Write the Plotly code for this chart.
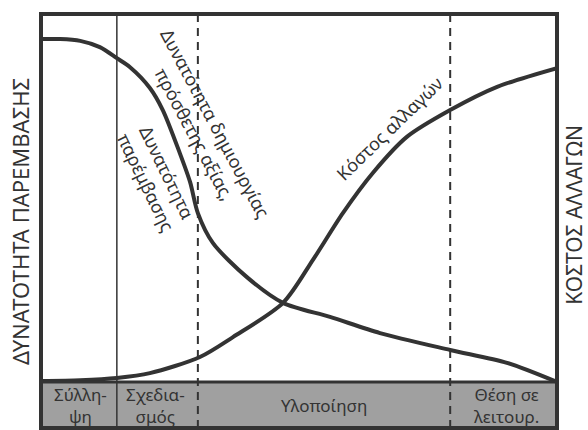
import plotly.graph_objects as go

# ---- data (x: project progress 0-100, y: relative level 0-100) ----
interv_x = [0, 3.7, 7.6, 11.4, 14.7, 17.2, 21.1, 23.6, 26.9, 28.9, 30.4, 33.3, 39.9, 46.9, 56.0, 65.7, 79.3, 90.3, 100]
interv_y = [93.2, 93.2, 92.7, 91.0, 88.0, 85.6, 79.9, 73.9, 62.2, 54.3, 45.9, 37.8, 28.5, 21.5, 17.7, 13.3, 8.7, 5.2, 0]

cost_x = [0, 7.6, 14.7, 21.1, 30.8, 37.2, 46.9, 52.7, 58.5, 64.3, 70.9, 79.3, 88.4, 100]
cost_y = [0.3, 0.5, 1.1, 2.4, 6.8, 12.2, 21.5, 33.2, 45.9, 56.8, 66.6, 73.9, 80.2, 85.3]

phase_bounds = [14.7, 30.4, 79.3]
phase_styles = ["solid", "dash", "dash"]
phase_labels = ["Σύλλη-<br>ψη", "Σχεδια-<br>σμός", "Υλοποίηση", "Θέση σε<br>λειτουρ."]
phase_label_x = [7.6, 22.1, 54.8, 90.3]

curve_labels = ["Δυνατότητα δημιουργίας<br>πρόσθετης αξίας,", "Δυνατότητα<br>παρέμβασης", "Κόστος αλλαγών"]
curve_label_x = [31.8, 22.5, 67.6]
curve_label_y = [68.9, 55.7, 68.9]
curve_label_angle = [62, 64, -44]

left_title = "ΔΥΝΑΤΟΤΗΤΑ ΠΑΡΕΜΒΑΣΗΣ"
right_title = "ΚΟΣΤΟΣ ΑΛΛΑΓΩΝ"

INK = "#333333"
BAND_BOTTOM = -12.5
FONT = "Noto Sans"

fig = go.Figure()

fig.add_trace(go.Scatter(x=interv_x, y=interv_y, mode="lines",
                         line=dict(color=INK, width=4, shape="spline", smoothing=0.8),
                         hoverinfo="skip", showlegend=False))
fig.add_trace(go.Scatter(x=cost_x, y=cost_y, mode="lines",
                         line=dict(color=INK, width=4, shape="spline", smoothing=0.8),
                         hoverinfo="skip", showlegend=False))

shapes = []
# gray phase band
shapes.append(dict(type="rect", xref="x", yref="y", x0=0, x1=100, y0=BAND_BOTTOM, y1=0,
                   fillcolor="#a0a0a0", line=dict(width=0), layer="below"))
shapes.append(dict(type="line", xref="x", yref="y", x0=0, x1=100, y0=0, y1=0,
                   line=dict(color=INK, width=3)))
# phase boundaries
for xb, st in zip(phase_bounds, phase_styles):
    shapes.append(dict(type="line", xref="x", yref="y", x0=xb, x1=xb, y0=BAND_BOTTOM, y1=100,
                       line=dict(color=INK, width=2 if st == "dash" else 1.5,
                                 dash="8px,6px" if st == "dash" else "solid")))
# frame
shapes.append(dict(type="rect", xref="paper", yref="paper", x0=0, x1=1, y0=0, y1=1,
                   line=dict(color=INK, width=4), fillcolor="rgba(0,0,0,0)"))

annotations = []
for lab, xx in zip(phase_labels, phase_label_x):
    annotations.append(dict(x=xx, y=BAND_BOTTOM / 2, xref="x", yref="y", text=lab,
                            xanchor="center", yanchor="middle",
                            showarrow=False, font=dict(family=FONT, size=17, color=INK)))
for lab, xx, yy, ang in zip(curve_labels, curve_label_x, curve_label_y, curve_label_angle):
    annotations.append(dict(x=xx, y=yy, xref="x", yref="y", text=lab, textangle=ang,
                            xanchor="center", yanchor="middle",
                            showarrow=False, font=dict(family=FONT, size=18, color=INK)))
annotations.append(dict(x=-0.0405, y=0.4976, xref="paper", yref="paper", text=left_title,
                        textangle=-90, showarrow=False, xanchor="center", yanchor="middle",
                        font=dict(family=FONT, size=22, color=INK)))
annotations.append(dict(x=1.034, y=0.514, xref="paper", yref="paper", text=right_title,
                        textangle=-90, showarrow=False, xanchor="center", yanchor="middle",
                        font=dict(family=FONT, size=21, color=INK)))

fig.update_layout(
    width=588, height=430,
    margin=dict(l=41, r=31, t=14, b=2),
    paper_bgcolor="white", plot_bgcolor="white",
    xaxis=dict(range=[0, 100], visible=False, fixedrange=True),
    yaxis=dict(range=[BAND_BOTTOM, 100], visible=False, fixedrange=True),
    shapes=shapes, annotations=annotations,
)

fig.write_html("out.html", config={"displayModeBar": False},
               post_script="document.body.style.margin='0px';document.body.style.overflow='hidden';")
